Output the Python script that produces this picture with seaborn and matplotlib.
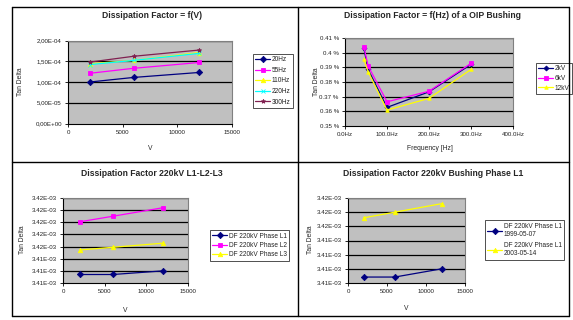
import matplotlib
matplotlib.use("Agg")
import matplotlib.pyplot as plt
import seaborn as sns
import pandas as pd
from matplotlib.lines import Line2D
from matplotlib.ticker import FixedLocator, FixedFormatter

# ---------------- data ----------------
# Panel 1: Dissipation Factor = f(V)
p1_volts = [2000, 6000, 12000]
p1_series = ["20Hz", "55Hz", "110Hz", "220Hz", "300Hz"]
p1_20hz = [1.00e-4, 1.11e-4, 1.23e-4]
p1_55hz = [1.21e-4, 1.33e-4, 1.47e-4]
p1_110hz = [1.44e-4, 1.52e-4, 1.71e-4]
p1_220hz = [1.42e-4, 1.52e-4, 1.69e-4]
p1_300hz = [1.48e-4, 1.62e-4, 1.77e-4]
p1_yticks = [0.0, 5e-5, 1e-4, 1.5e-4, 2e-4]
p1_ylabels = ["0,00E+00", "5,00E-05", "1,00E-04", "1,50E-04", "2,00E-04"]
p1_xticks = [0, 5000, 10000, 15000]

# Panel 2: Dissipation Factor = f(Hz) of a OIP Bushing (values in %)
p2_freq = [45, 55, 100, 200, 300]
p2_series = ["2kV", "6kV", "12kV"]
p2_2kv = [0.4029, 0.3886, 0.3627, 0.3733, 0.3920]
p2_6kv = [0.4040, 0.3910, 0.3665, 0.3737, 0.3927]
p2_12kv = [0.3954, 0.3870, 0.3609, 0.3688, 0.3886]
p2_yticks = [0.35, 0.36, 0.37, 0.38, 0.39, 0.40, 0.41]
p2_ylabels = ["0.35 %", "0.36 %", "0.37 %", "0.38 %", "0.39 %", "0.4 %", "0.41 %"]
p2_xticks = [0, 100, 200, 300, 400]
p2_xlabels = ["0.0Hz", "100.0Hz", "200.0Hz", "300.0Hz", "400.0Hz"]

# Panel 3: Dissipation Factor 220kV L1-L2-L3
p3_volts = [2000, 6000, 12000]
p3_series = ["DF 220kV Phase L1", "DF 220kV Phase L2", "DF 220kV Phase L3"]
p3_l1 = [0.00341385, 0.00341385, 0.00341400]
p3_l2 = [0.00341602, 0.00341625, 0.00341660]
p3_l3 = [0.00341486, 0.00341497, 0.00341514]
p3_yticks = [0.0034135, 0.0034140, 0.0034145, 0.0034150, 0.0034155, 0.0034160, 0.0034165, 0.0034170]
p3_ylabels = ["3.41E-03", "3.41E-03", "3.41E-03", "3.42E-03", "3.42E-03", "3.42E-03", "3.42E-03", "3.42E-03"]

# Panel 4: Dissipation Factor 220kV Bushing Phase L1
p4_volts = [2000, 6000, 12000]
p4_series = ["DF 220kV Phase L1\n1999-05-07", "DF 220kV Phase L1\n2003-05-14"]
p4_1999 = [0.00341321, 0.00341321, 0.00341350]
p4_2003 = [0.00341530, 0.00341550, 0.00341580]
p4_yticks = [0.0034130, 0.0034135, 0.0034140, 0.0034145, 0.0034150, 0.0034155, 0.0034160]
p4_ylabels = ["3.41E-03", "3.41E-03", "3.41E-03", "3.41E-03", "3.42E-03", "3.42E-03", "3.42E-03"]
vx_ticks = [0, 5000, 10000, 15000]

# ---------------- styling ----------------
sns.set_style("white")
plt.rcParams["font.family"] = ["Liberation Sans", "DejaVu Sans"]

W, H = 573, 320
fig = plt.figure(figsize=(W / 100, H / 100), dpi=100)
fig.patch.set_facecolor("white")

PLOT_BG = "#c0c0c0"
TICK_FS = 4.4
TITLE_FS = 6.2
LABEL_FS = 4.9
LEG_FS = 4.7

NAVY, MAG, YEL, CYAN, PURP = "#000080", "#ff00ff", "#ffff00", "#00ffff", "#802050"


def rect(l, t, r, b):
    return [l / W, 1 - b / H, (r - l) / W, (b - t) / H]


def style_axes(ax, yticks, ylabels, xticks, xlabels, xlim, ylim):
    ax.set_facecolor(PLOT_BG)
    ax.set_xlim(*xlim)
    ax.set_ylim(*ylim)
    ax.yaxis.set_major_locator(FixedLocator(yticks))
    ax.yaxis.set_major_formatter(FixedFormatter(ylabels))
    ax.xaxis.set_major_locator(FixedLocator(xticks))
    ax.xaxis.set_major_formatter(FixedFormatter(xlabels))
    for yt in yticks[1:]:
        ax.axhline(yt, color="black", lw=0.9, zorder=1)
    ax.tick_params(axis="both", which="major", labelsize=TICK_FS, length=2.5, width=0.6,
                   direction="out", pad=2, colors="black", labelcolor="#222222")
    ax.tick_params(left=True, bottom=True)
    for s in ["left", "bottom"]:
        ax.spines[s].set_color("black")
        ax.spines[s].set_linewidth(0.8)
    for s in ["top", "right"]:
        ax.spines[s].set_color("#808080")
        ax.spines[s].set_linewidth(0.8)
    ax.set_xlabel("")
    ax.set_ylabel("")


def lines(ax, x, series_vals, names, colors, markers, msize=3.2):
    handles = []
    for name, vals, c, m in zip(names, series_vals, colors, markers):
        df = pd.DataFrame({"x": x, "y": vals})
        sns.lineplot(data=df, x="x", y="y", color=c, marker=m, ax=ax, lw=0.9,
                     markersize=msize, markeredgewidth=0.6, markeredgecolor=c,
                     zorder=3, legend=False)
        handles.append(Line2D([0], [0], color=c, lw=0.9, marker=m, markersize=msize,
                              markeredgewidth=0.6, markeredgecolor=c))
    return handles


def legend(ax, handles, names, l, t, r, b, spacing=0.5):
    leg = ax.legend(handles, names, loc="center", fontsize=LEG_FS,
                    bbox_to_anchor=rect(l, t, r, b), bbox_transform=fig.transFigure,
                    frameon=True, fancybox=False, handlelength=2.2,
                    handletextpad=0.3, borderpad=0.4, labelspacing=spacing,
                    borderaxespad=0)
    fr = leg.get_frame()
    fr.set_edgecolor("black")
    fr.set_linewidth(0.6)
    fr.set_facecolor("white")
    for t_ in leg.get_texts():
        t_.set_color("#222222")
    return leg


# ---------------- panel 1 ----------------
ax1 = fig.add_axes(rect(68, 40.5, 232, 123.5))
h1 = lines(ax1, p1_volts, [p1_20hz, p1_55hz, p1_110hz, p1_220hz, p1_300hz], p1_series,
           [NAVY, MAG, YEL, CYAN, PURP], ["D", "s", "^", "x", "*"])
style_axes(ax1, p1_yticks, p1_ylabels, p1_xticks, [str(v) for v in p1_xticks],
           (0, 15000), (0, 2e-4))
legend(ax1, h1, p1_series, 250, 47, 296, 115, spacing=0.55)
fig.text(152 / W, 1 - 16 / H, "Dissipation Factor = f(V)", ha="center", va="center",
         fontsize=TITLE_FS, fontweight="bold")
fig.text(150 / W, 1 - 148 / H, "V", ha="center", va="center", fontsize=LABEL_FS)
fig.text(20 / W, 1 - 82 / H, "Tan Delta", ha="center", va="center", fontsize=LABEL_FS,
         rotation=90)

# ---------------- panel 2 ----------------
ax2 = fig.add_axes(rect(345, 38, 513, 126))
h2 = lines(ax2, p2_freq, [p2_2kv, p2_6kv, p2_12kv], p2_series,
           [NAVY, MAG, YEL], ["D", "s", "^"], msize=2.5)
style_axes(ax2, p2_yticks, p2_ylabels, p2_xticks, p2_xlabels, (0, 400), (0.35, 0.41))
legend(ax2, h2, p2_series, 539, 60, 569, 97, spacing=0.4)
fig.text(432 / W, 1 - 15 / H, "Dissipation Factor = f(Hz) of a OIP Bushing", ha="center",
         va="center", fontsize=TITLE_FS, fontweight="bold")
fig.text(430 / W, 1 - 149 / H, "Frequency [Hz]", ha="center", va="center", fontsize=LABEL_FS)
fig.text(316 / W, 1 - 82 / H, "Tan Delta", ha="center", va="center", fontsize=LABEL_FS,
         rotation=90)

# ---------------- panel 3 ----------------
ax3 = fig.add_axes(rect(63, 198, 188, 283))
h3 = lines(ax3, p3_volts, [p3_l1, p3_l2, p3_l3], p3_series,
           [NAVY, MAG, YEL], ["D", "s", "^"])
style_axes(ax3, p3_yticks, p3_ylabels, vx_ticks, [str(v) for v in vx_ticks],
           (0, 15000), (p3_yticks[0], p3_yticks[-1]))
legend(ax3, h3, p3_series, 205, 230, 294, 261, spacing=0.35)
fig.text(152 / W, 1 - 173 / H, "Dissipation Factor 220kV L1-L2-L3", ha="center",
         va="center", fontsize=TITLE_FS, fontweight="bold")
fig.text(125 / W, 1 - 310 / H, "V", ha="center", va="center", fontsize=LABEL_FS)
fig.text(22 / W, 1 - 240 / H, "Tan Delta", ha="center", va="center", fontsize=LABEL_FS,
         rotation=90)

# ---------------- panel 4 ----------------
ax4 = fig.add_axes(rect(348, 198, 465, 283))
h4 = lines(ax4, p4_volts, [p4_1999, p4_2003], p4_series, [NAVY, YEL], ["D", "^"])
style_axes(ax4, p4_yticks, p4_ylabels, vx_ticks, [str(v) for v in vx_ticks],
           (0, 15000), (p4_yticks[0], p4_yticks[-1]))
legend(ax4, h4, p4_series, 482, 218, 567, 262, spacing=0.6)
fig.text(433 / W, 1 - 173 / H, "Dissipation Factor 220kV Bushing Phase L1", ha="center",
         va="center", fontsize=TITLE_FS, fontweight="bold")
fig.text(406 / W, 1 - 309 / H, "V", ha="center", va="center", fontsize=LABEL_FS)
fig.text(311 / W, 1 - 240 / H, "Tan Delta", ha="center", va="center", fontsize=LABEL_FS,
         rotation=90)

# ---------------- frame & dividers ----------------
def fline(x0, y0, x1, y1, lw=1.0):
    fig.add_artist(Line2D([x0 / W, x1 / W], [1 - y0 / H, 1 - y1 / H],
                          transform=fig.transFigure, color="black", lw=lw))

fline(12, 7, 569, 7)
fline(12, 316, 569, 316)
fline(12, 7, 12, 316)
fline(569, 7, 569, 316)
fline(298, 7, 298, 316)
fline(12, 162, 569, 162)

fig.savefig("out.png", dpi=100, facecolor="white")
